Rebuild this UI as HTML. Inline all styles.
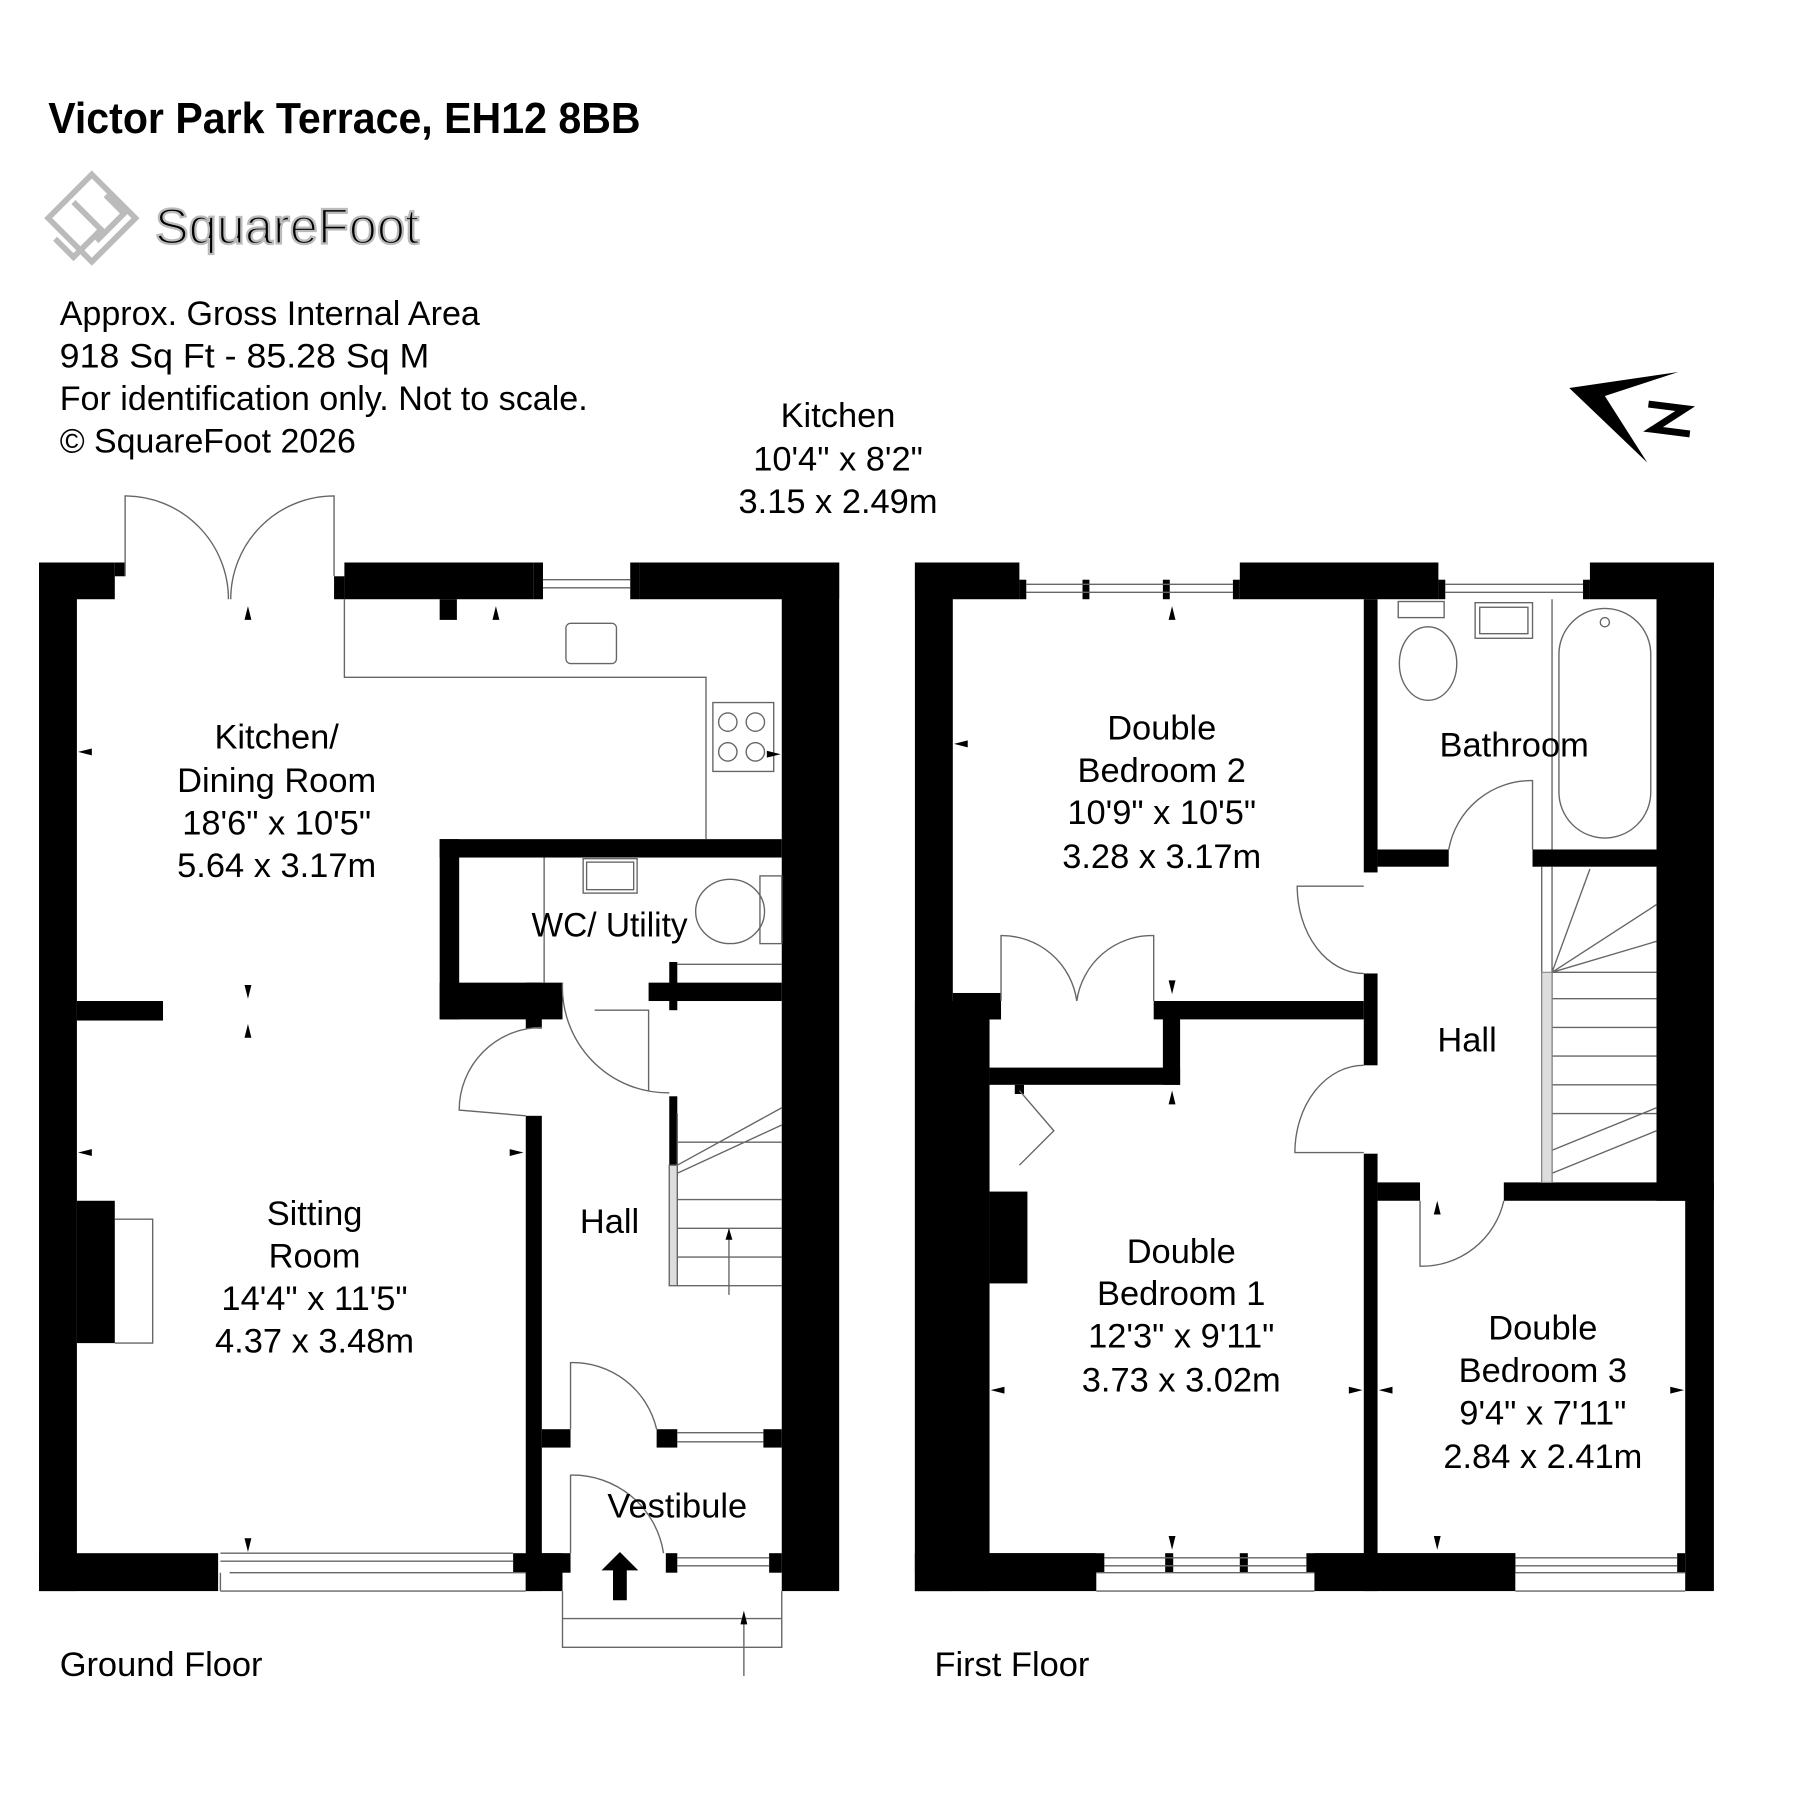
<!DOCTYPE html>
<html><head><meta charset="utf-8"><style>
html,body{margin:0;padding:0;background:#fff}
svg{display:block}
text{font-family:"Liberation Sans",Arial,sans-serif;fill:#000}
</style></head><body>
<svg width="1800" height="1800" viewBox="0 0 1568 1568" xmlns="http://www.w3.org/2000/svg">
<rect width="1568" height="1568" fill="#fff"/>
<!-- Title -->
<text x="42" y="116" font-size="38" font-weight="bold" textLength="516" lengthAdjust="spacingAndGlyphs">Victor Park Terrace, EH12 8BB</text>
<!-- logo -->
<g fill="none" stroke="#bbb" stroke-width="5">
<path d="M80 152 L118 190 L80 228 L42 190 Z"/>
<path d="M64 176 L88 200 L64 224 L48 208"/>
<path d="M92 170 L108 186 L84 210"/>
</g>
<text x="135" y="212" font-size="44" fill="#fff" stroke="#bbb" stroke-width="2" textLength="230" lengthAdjust="spacingAndGlyphs">SquareFoot</text>
<!-- info -->
<g font-size="30">
<text x="52" y="283" textLength="366" lengthAdjust="spacingAndGlyphs">Approx. Gross Internal Area</text>
<text x="52" y="320" textLength="322" lengthAdjust="spacingAndGlyphs">918 Sq Ft  -  85.28 Sq M</text>
<text x="52" y="357" textLength="460" lengthAdjust="spacingAndGlyphs">For identification only. Not to scale.</text>
<text x="52" y="394" textLength="258" lengthAdjust="spacingAndGlyphs">© SquareFoot 2026</text>
</g>
<g font-size="30" text-anchor="middle">
<text x="730" y="372">Kitchen</text>
<text x="730" y="410">10'4" x 8'2"</text>
<text x="730" y="447">3.15 x 2.49m</text>
</g>
<!-- north arrow -->
<path d="M1367 338 L1462 324 L1398 345 L1435 403 Z" fill="#000"/>
<path d="M1436 352 L1468 356 L1440 374 L1472 378" fill="none" stroke="#000" stroke-width="6"/>

<!-- ============ GROUND FLOOR ============ -->
<g fill="#000">
<rect x="34" y="490" width="33" height="896"/>
<rect x="34" y="490" width="66" height="32"/>
<rect x="100" y="490" width="9" height="12"/>
<rect x="300" y="490" width="165" height="32"/>
<rect x="291" y="502" width="9" height="20"/>
<rect x="557" y="490" width="174" height="32"/>
<rect x="465" y="490" width="8" height="32"/>
<rect x="549" y="490" width="8" height="32"/>
<rect x="681" y="490" width="50" height="896"/>
<rect x="383" y="522" width="15" height="18"/>
<rect x="67" y="872" width="75" height="17"/>
<rect x="383" y="731" width="298" height="16"/>
<rect x="383" y="731" width="17" height="157"/>
<rect x="383" y="856" width="107" height="32"/>
<rect x="458" y="856" width="14" height="40"/>
<rect x="565" y="856" width="116" height="16"/>
<rect x="583" y="838" width="7" height="42"/>
<rect x="458" y="972" width="14" height="414"/>
<rect x="583" y="955" width="7" height="60"/>
<rect x="472" y="1245" width="25" height="16"/>
<rect x="572" y="1245" width="18" height="16"/>
<rect x="665" y="1245" width="16" height="16"/>
<rect x="34" y="1353" width="156" height="33"/>
<rect x="447" y="1353" width="50" height="17"/>
<rect x="458" y="1353" width="32" height="33"/>
<rect x="580" y="1353" width="10" height="17"/>
<rect x="670" y="1353" width="11" height="17"/>
<rect x="67" y="1046" width="33" height="124"/>
<path d="M540 1352 L556 1368 L546 1368 L546 1394 L534 1394 L534 1368 L524 1368 Z"/>
</g>
<g fill="none" stroke="#666" stroke-width="1.2">
<path d="M109 502 L109 432 A90 90 0 0 1 199 522"/>
<path d="M291 502 L291 432 A90 90 0 0 0 201 522"/>
<path d="M473 505 H549 M473 512 H549"/>
<path d="M300 522 V590 H615 V731"/>
<rect x="493" y="543" width="44" height="35" rx="4"/>
<rect x="621" y="612" width="53" height="60"/>
<circle cx="634" cy="629" r="8"/><circle cx="658" cy="629" r="8"/>
<circle cx="634" cy="655" r="8"/><circle cx="658" cy="655" r="8"/>
<rect x="508" y="748" width="47" height="30"/>
<rect x="511" y="751" width="41" height="24"/>
<ellipse cx="636" cy="794" rx="30" ry="28"/>
<rect x="662" y="763" width="19" height="59"/>
<path d="M474 747 V856 M590 840 H681"/>
<path d="M472 895 A72 72 0 0 0 400 967 L458 972"/>
<path d="M490 856 A92 92 0 0 0 583 952 M518 880 L565 880 L565 950"/>
<path d="M590 970 V1120 M590 1015 L681 965 M590 1022 L681 980 M590 995 H681 M590 1045 H681 M590 1070 H681 M590 1095 H681 M590 1120 H681"/>
<path d="M635 1070 V1128"/>
<path d="M583 1015 H590 V1120 H583 Z" fill="#ddd"/>
<path d="M100 1062 H133 V1170 H100"/>
<path d="M497 1245 V1187 A75 75 0 0 1 572 1245"/>
<path d="M590 1248 H665 M590 1256 H665"/>
<path d="M497 1353 V1285 A80 80 0 0 1 578 1353"/>
<path d="M590 1357 H670 M590 1364 H670"/>
<path d="M192 1353 H447 M192 1360 H447 M200 1370 H458 M192 1386 H458 M192 1370 V1386"/>
<path d="M490 1386 V1435 H681 V1386 M490 1410 H681 M648 1460 V1410"/>
</g>
<g fill="#000">
<path d="M216 528 l-3 12 h6z M432 528 l-3 12 h6z M68 655 l12 -3 v6z M680 657 l-12 -3 v6z M216 870 l-3 -12 h6z M216 892 l-3 12 h6z M68 1004 l12 -3 v6z M456 1004 l-12 -3 v6z M216 1352 l-3 -12 h6z M635 1070 l-3 10 h6z M648 1403 l-3 12 h6z"/>
</g>
<g font-size="30" text-anchor="middle">
<text x="241" y="652">Kitchen/</text>
<text x="241" y="690">Dining Room</text>
<text x="241" y="727">18'6" x 10'5"</text>
<text x="241" y="764">5.64 x 3.17m</text>
<text x="531" y="816" textLength="136" lengthAdjust="spacingAndGlyphs">WC/ Utility</text>
<text x="531" y="1074">Hall</text>
<text x="274" y="1067">Sitting</text>
<text x="274" y="1104">Room</text>
<text x="274" y="1141">14'4" x 11'5"</text>
<text x="274" y="1178">4.37 x 3.48m</text>
<text x="590" y="1322">Vestibule</text>
</g>
<text x="52" y="1460" font-size="30">Ground Floor</text>

<!-- ============ FIRST FLOOR ============ -->
<g fill="#000">
<rect x="797" y="490" width="33" height="896"/>
<rect x="797" y="872" width="65" height="514"/>
<rect x="797" y="490" width="91" height="32"/>
<rect x="1080" y="490" width="173" height="32"/>
<rect x="1385" y="490" width="108" height="32"/>
<rect x="888" y="505" width="6" height="17"/><rect x="1074" y="505" width="6" height="17"/>
<rect x="943" y="505" width="6" height="17"/><rect x="1013" y="505" width="6" height="17"/>
<rect x="1253" y="505" width="6" height="17"/><rect x="1379" y="505" width="6" height="17"/>
<rect x="1443" y="490" width="50" height="556"/>
<rect x="1468" y="1030" width="25" height="356"/>
<rect x="1188" y="522" width="12" height="238"/>
<rect x="1188" y="848" width="12" height="80"/>
<rect x="1188" y="1005" width="12" height="381"/>
<rect x="1200" y="740" width="62" height="15"/>
<rect x="1335" y="740" width="108" height="15"/>
<rect x="830" y="865" width="42" height="23"/>
<rect x="1005" y="872" width="183" height="16"/>
<rect x="1013" y="872" width="15" height="73"/>
<rect x="862" y="930" width="166" height="15"/>
<rect x="862" y="880" width="10" height="8"/>
<rect x="884" y="945" width="8" height="8"/>
<rect x="1200" y="1030" width="37" height="16"/>
<rect x="1310" y="1030" width="158" height="16"/>
<rect x="862" y="1038" width="33" height="80"/>
<rect x="797" y="1353" width="158" height="33"/>
<rect x="797" y="1353" width="165" height="17"/>
<rect x="1138" y="1353" width="182" height="17"/>
<rect x="1145" y="1353" width="175" height="33"/>
<rect x="1015" y="1353" width="7" height="17"/><rect x="1080" y="1353" width="7" height="17"/>
<rect x="1461" y="1353" width="7" height="17"/>
</g>
<g fill="none" stroke="#666" stroke-width="1.2">
<path d="M894 509 H1074 M894 516 H1074 M1259 509 H1379 M1259 516 H1379"/>
<rect x="1218" y="524" width="40" height="14"/>
<ellipse cx="1244" cy="578" rx="25" ry="32"/>
<rect x="1285" y="525" width="50" height="31"/>
<rect x="1289" y="529" width="42" height="23"/>
<rect x="1358" y="530" width="80" height="200" rx="40"/>
<circle cx="1398" cy="542" r="4"/>
<path d="M1352 522 V740"/>
<path d="M1262 740 A73 73 0 0 1 1335 680 V740"/>
<path d="M1188 772 H1130 A58 76 0 0 0 1188 848"/>
<path d="M872 872 V815 A66 66 0 0 1 938 872"/>
<path d="M1005 872 V815 A66 66 0 0 0 938 872"/>
<path d="M1188 928 A60 76 0 0 0 1128 1004 H1188"/>
<path d="M1237 1046 V1103 A73 73 0 0 0 1310 1046"/>
<path d="M888 950 L918 985 L888 1015"/>
<path d="M1343 755 V1030 M1352 755 V1030 M1352 847 L1385 757 M1352 847 L1443 788 M1352 847 L1443 820 M1352 847 H1443 M1352 870 H1443 M1352 895 H1443 M1352 920 H1443 M1352 945 H1443 M1352 970 H1443 M1352 1002 L1443 965 M1352 1022 L1443 985"/>
<path d="M962 1357 H1138 M962 1364 H1138 M955 1370 H1145 M955 1386 H1145 M1320 1357 H1461 M1320 1364 H1461 M1320 1370 H1468 M1320 1386 H1468"/>
</g>
<path d="M1343 847 H1352 V1030 H1343 Z" fill="#ddd" stroke="#888" stroke-width="1"/>
<g fill="#000">
<path d="M1021 528 l-3 12 h6z M831 648 l12 -3 v6z M1021 866 l-3 -12 h6z M1021 950 l-3 12 h6z M1252 1046 l-3 12 h6z M863 1211 l12 -3 v6z M1187 1211 l-12 -3 v6z M1201 1211 l12 -3 v6z M1467 1211 l-12 -3 v6z M1021 1350 l-3 -12 h6z M1252 1350 l-3 -12 h6z"/>
</g>
<g font-size="30" text-anchor="middle">
<text x="1012" y="644">Double</text>
<text x="1012" y="681">Bedroom 2</text>
<text x="1012" y="718">10'9" x 10'5"</text>
<text x="1012" y="756">3.28 x 3.17m</text>
<text x="1319" y="659">Bathroom</text>
<text x="1278" y="916">Hall</text>
<text x="1029" y="1100">Double</text>
<text x="1029" y="1137">Bedroom 1</text>
<text x="1029" y="1174">12'3" x 9'11"</text>
<text x="1029" y="1212">3.73 x 3.02m</text>
<text x="1344" y="1167">Double</text>
<text x="1344" y="1204">Bedroom 3</text>
<text x="1344" y="1241">9'4" x 7'11"</text>
<text x="1344" y="1279">2.84 x 2.41m</text>
</g>
<text x="814" y="1460" font-size="30">First Floor</text>
</svg>
</body></html>
